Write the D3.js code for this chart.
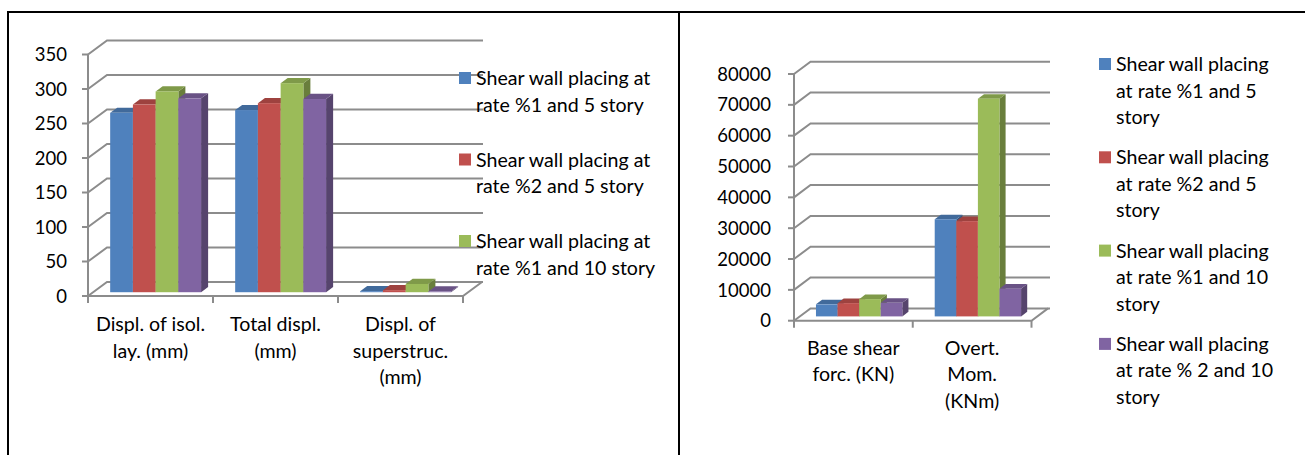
<!DOCTYPE html>
<html>
<head>
<meta charset="utf-8">
<script src="https://cdn.jsdelivr.net/npm/d3@7"></script>
<style>
  html, body { margin: 0; padding: 0; background: #fff; }
  svg { display: block; font-family: Lato, "Open Sans", sans-serif; }
</style>
</head>
<body>
<svg id="chart" width="1305" height="455"></svg>
<script>
// ---- Series (shared by both panels) ----
const seriesNames = [
  "Shear wall placing at rate %1 and 5 story",
  "Shear wall placing at rate %2 and 5 story",
  "Shear wall placing at rate %1 and 10 story",
  "Shear wall placing at rate % 2 and 10 story"
];
const seriesColors = ["#4F81BD", "#C0504D", "#9BBB59", "#8064A2"];

// ---- Left panel: displacements (mm) ----
const leftCategories = ["Displ. of isol. lay. (mm)", "Total displ. (mm)", "Displ. of superstruc. (mm)"];
const leftCategoryLines = [["Displ. of isol.", "lay. (mm)"], ["Total displ.", "(mm)"], ["Displ. of", "superstruc.", "(mm)"]];
const leftTicks = [0, 50, 100, 150, 200, 250, 300, 350];
const leftS1 = [260, 264, 1.5];
const leftS2 = [272, 274, 3];
const leftS3 = [291, 303, 12];
const leftS4 = [281, 280, 1];
const leftLegendLines = [
  ["Shear wall placing at", "rate %1 and 5 story"],
  ["Shear wall placing at", "rate %2 and 5 story"],
  ["Shear wall placing at", "rate %1 and 10 story"]
];

// ---- Right panel: base shear and overturning moment ----
const rightCategories = ["Base shear forc. (KN)", "Overt. Mom. (KNm)"];
const rightCategoryLines = [["Base shear", "forc. (KN)"], ["Overt.", "Mom.", "(KNm)"]];
const rightTicks = [0, 10000, 20000, 30000, 40000, 50000, 60000, 70000, 80000];
const rightS1 = [3900, 31500];
const rightS2 = [4300, 30900];
const rightS3 = [5600, 70600];
const rightS4 = [4400, 9000];
const rightLegendLines = [
  ["Shear wall placing", "at rate %1 and 5", "story"],
  ["Shear wall placing", "at rate %2 and 5", "story"],
  ["Shear wall placing", "at rate %1 and 10", "story"],
  ["Shear wall placing", "at rate % 2 and 10", "story"]
];

const svg = d3.select("#chart");
const gridColor = "#8c8c8c";
const textColor = "#000";

// Page frame: top rule, left rule and the divider between the two panels
const frame = svg.append("g").attr("stroke", "#000").attr("stroke-width", 2);
frame.append("line").attr("x1", 7).attr("x2", 1305).attr("y1", 12).attr("y2", 12);
frame.append("line").attr("x1", 8).attr("x2", 8).attr("y1", 11).attr("y2", 455);
frame.append("line").attr("x1", 679).attr("x2", 679).attr("y1", 11).attr("y2", 455);

// Draws one pseudo-3D clustered column chart
function drawPanel(cfg) {
  const g = svg.append("g");
  const maxV = d3.max(cfg.ticks);
  const yF = d3.scaleLinear().domain([0, maxV]).range([cfg.yBase, cfg.yTop]);
  const xCat = d3.scaleBand().domain(cfg.categories).range([cfg.x0, cfg.x1]);
  const xSer = d3.scaleBand().domain(d3.range(cfg.series.length))
    .range([0, xCat.bandwidth()]).paddingInner(0).paddingOuter(0.75);
  // project (x on front plane, value, depth fraction) to screen
  const P = (x, v, f) => [x + f * cfg.dx, yF(v) + f * cfg.dy];
  const pt = p => p[0] + "," + p[1];

  // Side wall + back wall gridlines
  g.append("g").selectAll("path").data(cfg.ticks).join("path")
    .attr("d", t => {
      const b = P(cfg.x0, t, 1);
      return `M${cfg.x0},${yF(t)}L${b[0]},${b[1]}L${cfg.backRight},${b[1]}`;
    })
    .attr("fill", "none").attr("stroke", gridColor).attr("stroke-width", 2);

  // Floor front and right edges
  const fr = P(cfg.x1, 0, 1);
  g.append("path")
    .attr("d", `M${cfg.x0},${cfg.yBase}L${cfg.x1},${cfg.yBase}L${fr[0]},${fr[1]}`)
    .attr("fill", "none").attr("stroke", gridColor).attr("stroke-width", 2);

  // Value axis line and ticks
  g.append("line").attr("x1", cfg.x0).attr("x2", cfg.x0)
    .attr("y1", yF(maxV)).attr("y2", cfg.yBase + 7)
    .attr("stroke", gridColor).attr("stroke-width", 2);
  g.append("g").selectAll("line").data(cfg.ticks).join("line")
    .attr("x1", cfg.x0 - 6).attr("x2", cfg.x0)
    .attr("y1", d => yF(d)).attr("y2", d => yF(d))
    .attr("stroke", gridColor).attr("stroke-width", 2);
  g.append("g").selectAll("text").data(cfg.ticks).join("text")
    .attr("x", cfg.x0 - cfg.labelGap).attr("y", d => yF(d))
    .attr("dy", "0.36em").attr("text-anchor", "end")
    .attr("font-size", cfg.tickFontSize).attr("fill", textColor)
    .text(d => d);

  // Category axis ticks at band boundaries
  const bounds = cfg.categories.map(c => xCat(c) + xCat.bandwidth());
  g.append("g").selectAll("line").data(bounds).join("line")
    .attr("x1", d => d).attr("x2", d => d)
    .attr("y1", cfg.yBase).attr("y2", cfg.yBase + 7)
    .attr("stroke", gridColor).attr("stroke-width", 2);

  // Bars, painted left to right so each front hides the previous side face
  const bars = g.append("g");
  cfg.categories.forEach((c, ci) => {
    cfg.series.forEach((vals, si) => {
      const v = vals[ci];
      const xl = xCat(c) + xSer(si);
      const xr = xl + xSer.bandwidth();
      const col = d3.color(seriesColors[si]);
      const f0 = cfg.f0, f1 = cfg.f1;
      const bar = bars.append("g");
      bar.append("polygon")
        .attr("points", [P(xr, v, f0), P(xr, 0, f0), P(xr, 0, f1), P(xr, v, f1)].map(pt).join(" "))
        .attr("fill", col.darker(1.1));
      bar.append("polygon")
        .attr("points", [P(xl, v, f0), P(xr, v, f0), P(xr, v, f1), P(xl, v, f1)].map(pt).join(" "))
        .attr("fill", col.darker(0.55));
      const a = P(xl, v, f0), b = P(xr, 0, f0);
      bar.append("rect")
        .attr("x", a[0]).attr("y", a[1])
        .attr("width", b[0] - a[0]).attr("height", Math.max(0, b[1] - a[1]))
        .attr("fill", col);
    });
  });

  // Category labels (pre-wrapped lines)
  const cl = g.append("g").attr("font-size", cfg.fontSize).attr("fill", textColor).attr("text-anchor", "middle");
  cfg.categoryLines.forEach((lines, ci) => {
    const cx = xCat(cfg.categories[ci]) + xCat.bandwidth() / 2;
    const t = cl.append("text").attr("x", cx).attr("y", cfg.yBase + cfg.catLabelOffset);
    lines.forEach((ln, li) => t.append("tspan").attr("x", cx).attr("y", cfg.yBase + cfg.catLabelOffset + li * cfg.lineH).text(ln));
  });

  // Legend
  const lg = g.append("g").attr("font-size", cfg.fontSize).attr("fill", textColor);
  cfg.legendLines.forEach((lines, i) => {
    const by = cfg.legendY + i * cfg.legendStep;
    lg.append("rect").attr("x", cfg.legendX).attr("y", by - 13)
      .attr("width", 12).attr("height", 12).attr("fill", seriesColors[i]);
    const t = lg.append("text");
    lines.forEach((ln, li) => t.append("tspan").attr("x", cfg.legendX + 17).attr("y", by + li * cfg.lineH).text(ln));
  });
}

drawPanel({
  categories: leftCategories, categoryLines: leftCategoryLines,
  series: [leftS1, leftS2, leftS3, leftS4], ticks: leftTicks,
  legendLines: leftLegendLines,
  x0: 88, x1: 463, yBase: 296, yTop: 54.5, dx: 19, dy: -14, backRight: 483,
  f0: 0.27, f1: 0.64, labelGap: 21, fontSize: 19.6, tickFontSize: 18.5,
  catLabelOffset: 35, lineH: 26.5,
  legendX: 459, legendY: 85, legendStep: 81.5
});

drawPanel({
  categories: rightCategories, categoryLines: rightCategoryLines,
  series: [rightS1, rightS2, rightS3, rightS4], ticks: rightTicks,
  legendLines: rightLegendLines,
  x0: 794, x1: 1031.5, yBase: 320.7, yTop: 74, dx: 16.5, dy: -12.3, backRight: 1050,
  f0: 0.35, f1: 0.72, labelGap: 23, fontSize: 19.6, tickFontSize: 18.5,
  catLabelOffset: 34, lineH: 26.5,
  legendX: 1099, legendY: 71, legendStep: 93.3
});
</script>
</body>
</html>
